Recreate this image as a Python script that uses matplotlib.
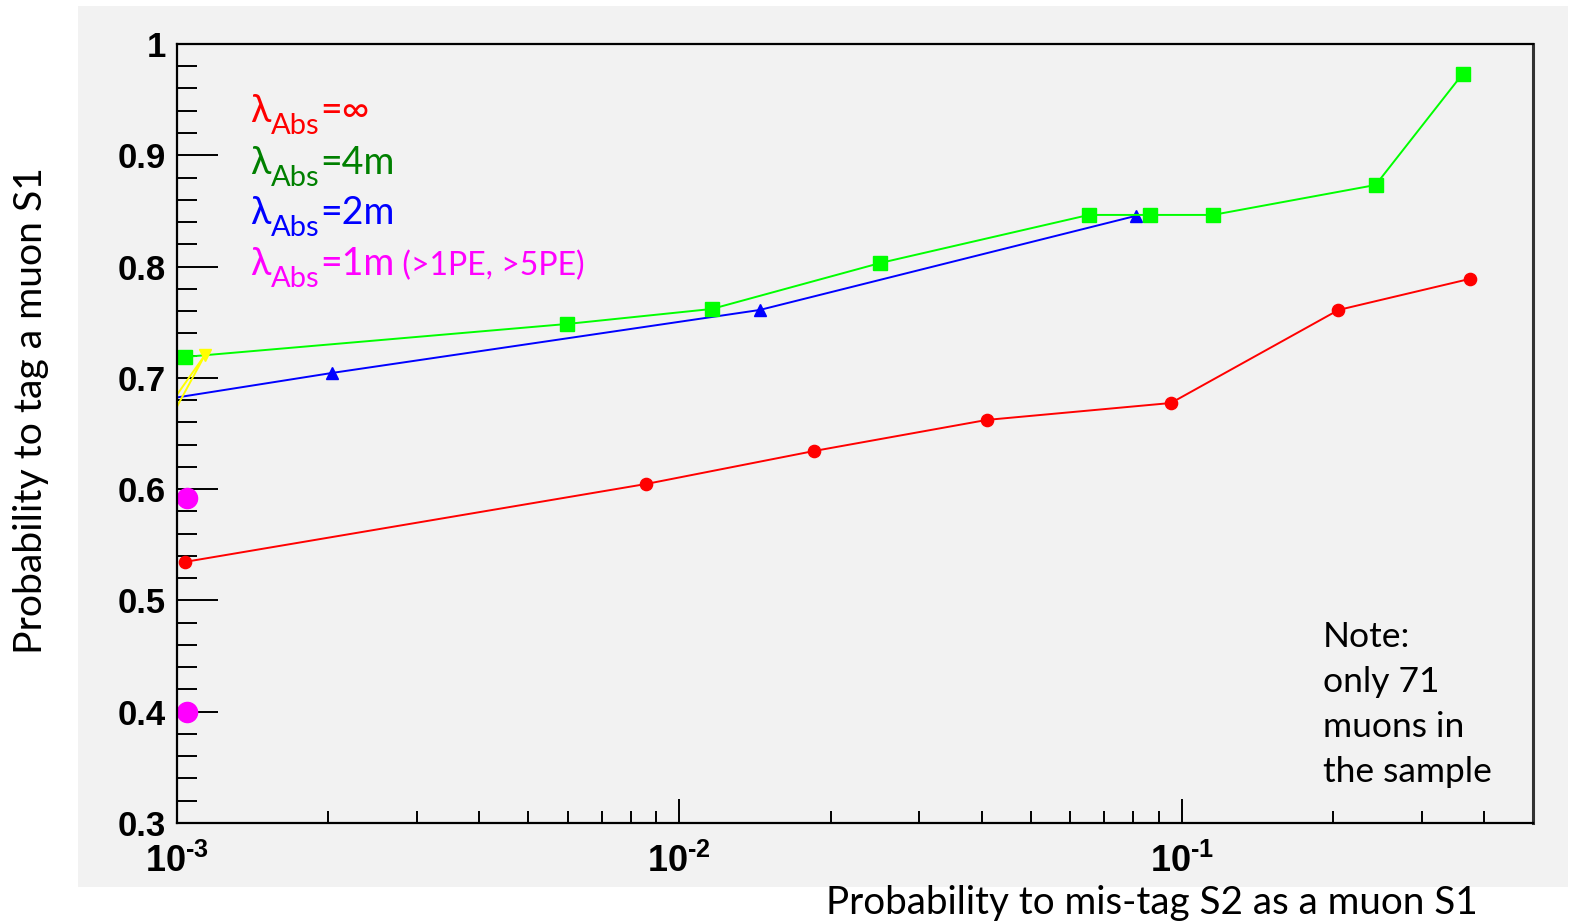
import numpy as np
import matplotlib.pyplot as plt
from matplotlib.patches import Rectangle
from matplotlib.ticker import LogLocator, MultipleLocator, FuncFormatter, NullFormatter

plt.rcParams['font.family'] = ['Liberation Sans', 'DejaVu Sans']
plt.rcParams['font.weight'] = 'bold'
plt.rcParams['mathtext.fontset'] = 'custom'
plt.rcParams['mathtext.bf'] = 'Liberation Sans:bold'
plt.rcParams['mathtext.rm'] = 'Liberation Sans:bold'

TEXT_FONT = ['Lato', 'DejaVu Sans']

# lambda_abs = infinity
red_x = [1.037e-3, 8.6e-3, 0.01855, 0.0409, 0.0951, 0.205, 0.374]
red_y = [0.5346, 0.6047, 0.6343, 0.6622, 0.6774, 0.7610, 0.7889]

# lambda_abs = 4 m
green_x = [1.037e-3, 5.97e-3, 0.0116, 0.0251, 0.0653, 0.0863, 0.1153, 0.243, 0.362]
green_y = [0.7188, 0.7484, 0.7619, 0.8032, 0.8464, 0.8464, 0.8464, 0.8733, 0.9730]

# lambda_abs = 2 m (first point sits just left of the frame)
blue_x = [9.5e-4, 2.035e-3, 0.01445, 0.0809]
blue_y = [0.6808, 0.7044, 0.7610, 0.8455]

# lambda_abs = 1 m
yellow_x = [9.8e-4, 1.137e-3, 9.8e-4]
yellow_y = [0.6792, 0.7206, 0.6668]
magenta_x = [1.047e-3, 1.047e-3]
magenta_y = [0.5921, 0.3998]

legend_tails = ['=\u221e', '=4m', '=2m', '=1m']
legend_colors = ['#ff0000', '#008000', '#0000ff', '#ff00ff']
legend_baselines = [0.8999, 0.8331, 0.7689, 0.7035]

note_lines = ['Note:', 'only 71', 'muons in', 'the sample']


def decade_label(v, pos):
    # short hyphen in the exponent, like ROOT's log-axis labels
    return r'$\mathbf{10^{\text{-%d}}}$' % abs(round(np.log10(v)))


fig = plt.figure(figsize=(15.73, 9.24), dpi=100)
fig.patches.append(Rectangle((0.0496, 0.04), 0.9472, 0.9535, transform=fig.transFigure,
                             facecolor='#f2f2f2', edgecolor='none', zorder=-10))

ax = fig.add_axes([0.1125, 0.1093, 0.8621, 0.8431])
ax.set_facecolor('#f2f2f2')
ax.set_xscale('log')
ax.set_xlim(1e-3, 0.5)
ax.set_ylim(0.3, 1.0)

ax.plot(red_x, red_y, color='#ff0000', lw=1.4, marker='o', ms=8.8)
ax.plot(blue_x, blue_y, color='#0000ff', lw=1.4, marker='^', ms=8, markevery=[1, 2, 3])
ax.plot(green_x, green_y, color='#00ff00', lw=1.4, marker='s', ms=9.5, mec='#00ff00')
ax.plot(yellow_x, yellow_y, color='#ffff00', lw=1.4, marker='v', ms=9, markevery=[1])
ax.plot(magenta_x, magenta_y, 'o', color='#ff00ff', ms=14.5, clip_on=False)

# ROOT-like axes: inward ticks on left/bottom only
ax.xaxis.set_major_locator(LogLocator(base=10))
ax.xaxis.set_minor_locator(LogLocator(base=10, subs=np.arange(2, 10)))
ax.xaxis.set_minor_formatter(NullFormatter())
ax.xaxis.set_major_formatter(FuncFormatter(decade_label))
ax.yaxis.set_major_locator(MultipleLocator(0.1))
ax.yaxis.set_minor_locator(MultipleLocator(0.02))
ax.yaxis.set_major_formatter(FuncFormatter(lambda v, p: '%g' % round(v, 1)))

ax.tick_params(which='both', direction='in', top=False, right=False, width=1.4, color='black')
ax.tick_params(axis='y', which='major', length=29.5, pad=8, labelsize=25)
ax.tick_params(axis='y', which='minor', length=14.4)
ax.tick_params(axis='x', which='major', length=17, pad=15, labelsize=26)
ax.tick_params(axis='x', which='minor', length=8.6)
for s in ax.spines.values():
    s.set_linewidth(1.6)
ax.spines['right'].set_color('#333333')
ax.spines['right'].set_linewidth(2.2)

# legend written as coloured text
for tail, col, yb in zip(legend_tails, legend_colors, legend_baselines):
    t = ax.text(0.054, yb, '\u03bb', transform=ax.transAxes, fontsize=27, color=col,
                family=TEXT_FONT, fontweight='normal', va='baseline')
    sub = ax.annotate('Abs', xy=(1, 0), xycoords=t, xytext=(0.5, -7.5), textcoords='offset points',
                      fontsize=21, color=col, family=TEXT_FONT, fontweight='normal', va='bottom')
    e = ax.annotate(tail, xy=(1, 0), xycoords=(sub, t), xytext=(0, 0), textcoords='offset points',
                    fontsize=27, color=col, family=TEXT_FONT, fontweight='normal', va='bottom')
    if tail == '=1m':
        ax.annotate(' (>1PE, >5PE)', xy=(1, 0), xycoords=(e, t), xytext=(0, 0.8),
                    textcoords='offset points', fontsize=23, color=col, family=TEXT_FONT,
                    fontweight='normal', va='bottom')

for i, line in enumerate(note_lines):
    ax.text(0.845, 0.2259 - 0.0578 * i, line, transform=ax.transAxes, fontsize=25.5,
            family=TEXT_FONT, fontweight='normal', va='baseline', color='black')

fig.text(1152 / 1573, 1 - 903 / 924, 'Probability to mis-tag S2 as a muon S1', fontsize=27.8,
         family=TEXT_FONT, fontweight='normal', ha='center', va='center')
fig.text(31 / 1573, 1 - 411 / 924, 'Probability to tag a muon S1', fontsize=28.2, rotation=90,
         family=TEXT_FONT, fontweight='normal', ha='center', va='center')

fig.savefig('out.png', dpi=100)
